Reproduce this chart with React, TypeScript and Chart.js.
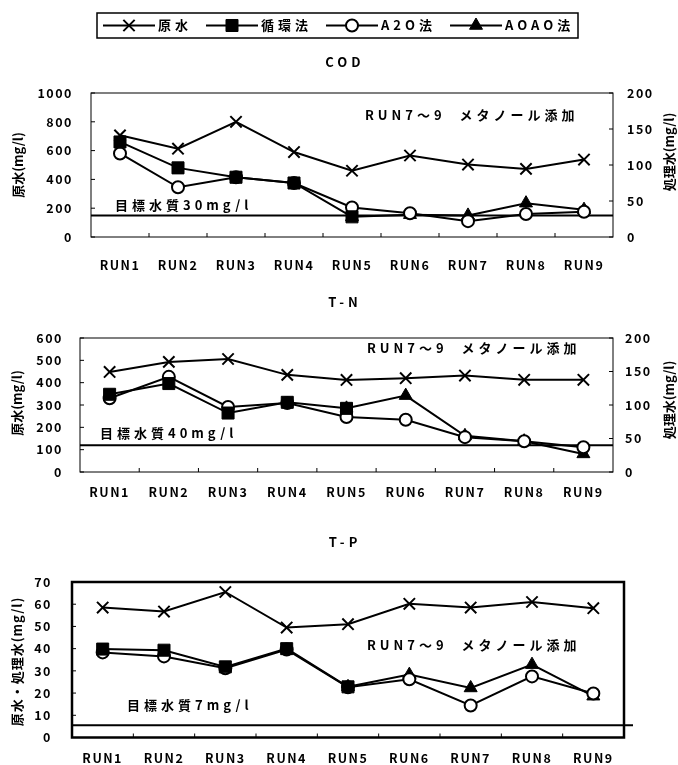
import React, { useEffect, useRef } from 'react';
import { Chart, registerables } from 'chart.js';
import { drawPoint } from 'chart.js/helpers';

Chart.register(...registerables);

const FONT = '"Noto Sans CJK JP", "Noto Sans CJK SC", sans-serif';
const W = 678;

// ---------- data ----------
const categories = ['RUN1', 'RUN2', 'RUN3', 'RUN4', 'RUN5', 'RUN6', 'RUN7', 'RUN8', 'RUN9'];
const seriesNames = ['原水', '循環法', 'A2O法', 'AOAO法'];

// COD (raw on left axis, treated on right axis)
const codRaw = [706, 613, 800, 590, 460, 566, 503, 473, 538];
const codJunkan = [132, 96, 83, 75, 28, null, null, null, null];
const codA2O = [116, 69, 83, 75, 41, 33, 22, 32, 35];
const codAOAO = [null, null, null, null, 28, 31, 30, 47, 38];
const codTarget = 30;
const codLeftMax = 1000;
const codLeftStep = 200;
const codRightMax = 200;
const codRightStep = 50;

// T-N
const tnRaw = [448, 493, 506, 435, 412, 420, 432, 413, 413];
const tnJunkan = [116, 132, 88, 104, 95, null, null, null, null];
const tnA2O = [110, 142, 97, 103, 82, 78, 52, 46, 37];
const tnAOAO = [null, null, null, null, 95, 114, 54, 46, 27];
const tnTarget = 40;
const tnLeftMax = 600;
const tnLeftStep = 100;
const tnRightMax = 200;
const tnRightStep = 50;

// T-P (single axis)
const tpRaw = [58.5, 56.7, 65.5, 49.5, 51, 60.2, 58.5, 61, 58.2];
const tpJunkan = [39.8, 39.3, 31.8, 40, 22.8, null, null, null, null];
const tpA2O = [38.3, 36.5, 31.2, 39.6, 22.6, 26.2, 14.4, 27.5, 19.8];
const tpAOAO = [null, null, null, null, 22.8, 28.3, 22.3, 32.8, 18.6];
const tpTarget = 5.5;
const tpMax = 70;
const tpStep = 10;

const noteText = 'RUN7～9  メタノール添加';

// ---------- styles ----------
const markerStyles = [
  { pointStyle: 'crossRot', radius: 8, fill: '#000', borderWidth: 2 },
  { pointStyle: 'rect', radius: 8.5, fill: '#000', borderWidth: 1 },
  { pointStyle: 'circle', radius: 6, fill: '#fff', borderWidth: 2 },
  { pointStyle: 'triangle', radius: 7.5, fill: '#000', borderWidth: 1 },
];

function drawText(ctx: any, text: string, x: number, y: number, o: any = {}) {
  const size = o.size ?? 13;
  const spacing = o.spacing ?? 0;
  ctx.save();
  ctx.font = `bold ${size}px ${FONT}`;
  ctx.letterSpacing = `${spacing}px`;
  ctx.fillStyle = '#000';
  ctx.textBaseline = 'middle';
  ctx.textAlign = o.align ?? 'left';
  ctx.translate(x, y);
  if (o.rotate) ctx.rotate(o.rotate);
  ctx.fillText(text, o.align === 'center' ? spacing / 2 : 0, 0);
  ctx.restore();
  if (o.measure) {
    ctx.save();
    ctx.font = `bold ${size}px ${FONT}`;
    ctx.letterSpacing = `${spacing}px`;
    const w = ctx.measureText(text).width;
    ctx.restore();
    return w;
  }
  return 0;
}

function drawLegend(ctx: any, box: any) {
  ctx.save();
  ctx.strokeStyle = '#000';
  ctx.lineWidth = 1.5;
  ctx.strokeRect(box.x, box.y, box.w, box.h);
  const cy = box.y + box.h / 2;
  let x = box.x + 6;
  seriesNames.forEach((name, i) => {
    const m = markerStyles[i];
    ctx.lineWidth = 2;
    ctx.beginPath();
    ctx.moveTo(x, cy);
    ctx.lineTo(x + 52, cy);
    ctx.stroke();
    ctx.fillStyle = m.fill;
    ctx.strokeStyle = '#000';
    ctx.lineWidth = m.borderWidth;
    drawPoint(ctx, { pointStyle: m.pointStyle as any, radius: m.radius, borderWidth: m.borderWidth, rotation: 0 }, x + 26, cy);
    const w = drawText(ctx, name, x + 55, cy, { size: 13, spacing: 4, measure: true });
    x = x + 55 + w + 14;
  });
  ctx.restore();
}

function decorPlugin(spec: any) {
  return {
    id: 'decor',
    beforeDraw(chart: any) {
      chart.ctx.letterSpacing = '1.5px';
    },
    beforeDatasetsDraw(chart: any) {
      const ctx = chart.ctx;
      const a = chart.chartArea;
      ctx.save();
      ctx.letterSpacing = '0px';
      ctx.strokeStyle = '#000';
      // target line
      const ty = chart.scales[spec.targetAxis].getPixelForValue(spec.target);
      ctx.lineWidth = 2;
      ctx.beginPath();
      ctx.moveTo(a.left, ty);
      ctx.lineTo(a.right + (spec.targetExtend || 0), ty);
      ctx.stroke();
      // frame
      ctx.lineWidth = spec.frameWidth;
      ctx.strokeRect(a.left, a.top, a.right - a.left, a.bottom - a.top);
      // inner ticks
      ctx.lineWidth = 1;
      ['y', 'y1'].forEach((id) => {
        const s = chart.scales[id];
        if (!s) return;
        s.ticks.forEach((t: any) => {
          const y = s.getPixelForValue(t.value);
          ctx.beginPath();
          if (id === 'y') {
            ctx.moveTo(a.left, y);
            ctx.lineTo(a.left + 4, y);
          } else {
            ctx.moveTo(a.right - 4, y);
            ctx.lineTo(a.right, y);
          }
          ctx.stroke();
        });
      });
      const n = categories.length;
      for (let i = 1; i < n; i++) {
        const x = a.left + (i * (a.right - a.left)) / n;
        ctx.beginPath();
        ctx.moveTo(x, a.bottom);
        ctx.lineTo(x, a.bottom - 4);
        ctx.stroke();
      }
      ctx.restore();
    },
    afterDraw(chart: any) {
      const ctx = chart.ctx;
      drawText(ctx, spec.title, 343, spec.titleY, { size: 13, spacing: 4, align: 'center' });
      spec.axisTitles.forEach((t: any) =>
        drawText(ctx, t.text, t.x, t.y, { size: 13, spacing: t.spacing ?? 0, align: 'center', rotate: -Math.PI / 2 })
      );
      spec.notes.forEach((t: any) => drawText(ctx, t.text, t.x, t.y, { size: 13, spacing: 4 }));
      if (spec.legendBox) drawLegend(ctx, spec.legendBox);
    },
  };
}

function buildConfig(spec: any) {
  const tickFont = { family: FONT, size: 12.5, weight: 'bold' as const };
  const plain = (v: any) => String(v);
  const values = [spec.raw, spec.junkan, spec.a2o, spec.aoao];
  const datasets = values.map((data: any, i: number) => {
    const m = markerStyles[i];
    return {
      label: seriesNames[i],
      data,
      yAxisID: i === 0 ? 'y' : spec.treatedAxis,
      borderColor: '#000',
      backgroundColor: m.fill,
      borderWidth: 2,
      pointStyle: m.pointStyle,
      pointRadius: m.radius,
      pointBackgroundColor: m.fill,
      pointBorderColor: '#000',
      pointBorderWidth: m.borderWidth,
      spanGaps: false,
      tension: 0,
    };
  });
  const a = spec.area;
  const scales: any = {
    x: {
      type: 'category',
      offset: true,
      grid: { display: false, drawTicks: false },
      border: { display: false },
      ticks: { font: tickFont, color: '#000', padding: spec.xPad, autoSkip: false, maxRotation: 0 },
      afterFit: (s: any) => {
        s.height = spec.canvasH - a.bottom;
      },
    },
    y: {
      position: 'left',
      min: 0,
      max: spec.leftMax,
      grid: { display: false, drawTicks: false },
      border: { display: false },
      ticks: { stepSize: spec.leftStep, font: tickFont, color: '#000', padding: spec.yPad, callback: plain },
      afterFit: (s: any) => {
        s.width = a.left;
      },
    },
  };
  if (spec.rightMax) {
    scales.y1 = {
      position: 'right',
      min: 0,
      max: spec.rightMax,
      grid: { display: false, drawTicks: false },
      border: { display: false },
      ticks: { stepSize: spec.rightStep, font: tickFont, color: '#000', padding: spec.y1Pad, callback: plain },
      afterFit: (s: any) => {
        s.width = W - a.right;
      },
    };
  }
  return {
    type: 'line' as const,
    data: { labels: categories, datasets },
    options: {
      responsive: false,
      animation: false as const,
      events: [],
      layout: {
        padding: { top: a.top, left: 0, bottom: 0, right: spec.rightMax ? 0 : W - a.right },
      },
      plugins: {
        legend: { display: false },
        title: { display: false },
        tooltip: { enabled: false },
      },
      scales,
    },
    plugins: [decorPlugin(spec)],
  };
}

const codSpec = {
  raw: codRaw, junkan: codJunkan, a2o: codA2O, aoao: codAOAO,
  treatedAxis: 'y1', leftMax: codLeftMax, leftStep: codLeftStep, rightMax: codRightMax, rightStep: codRightStep,
  target: codTarget, targetAxis: 'y1', targetExtend: 0,
  area: { left: 91, right: 613, top: 93, bottom: 237 }, canvasH: 280,
  xPad: 21, yPad: 18, y1Pad: 14, frameWidth: 1,
  title: 'COD', titleY: 62,
  axisTitles: [
    { text: '原水(mg/l)', x: 18, y: 165 },
    { text: '処理水(mg/l)', x: 669, y: 152 },
  ],
  notes: [
    { text: noteText, x: 365, y: 115 },
    { text: '目標水質30mg/l', x: 115, y: 205 },
  ],
  legendBox: { x: 97, y: 13, w: 481, h: 25 },
};

const tnSpec = {
  raw: tnRaw, junkan: tnJunkan, a2o: tnA2O, aoao: tnAOAO,
  treatedAxis: 'y1', leftMax: tnLeftMax, leftStep: tnLeftStep, rightMax: tnRightMax, rightStep: tnRightStep,
  target: tnTarget, targetAxis: 'y1', targetExtend: 0,
  area: { left: 80, right: 613, top: 58, bottom: 192 }, canvasH: 225,
  xPad: 13, yPad: 17, y1Pad: 12, frameWidth: 1,
  title: 'T-N', titleY: 22,
  axisTitles: [
    { text: '原水(mg/l)', x: 17, y: 123 },
    { text: '処理水(mg/l)', x: 669, y: 120 },
  ],
  notes: [
    { text: noteText, x: 367, y: 68 },
    { text: '目標水質40mg/l', x: 100, y: 153 },
  ],
};

const tpSpec = {
  raw: tpRaw, junkan: tpJunkan, a2o: tpA2O, aoao: tpAOAO,
  treatedAxis: 'y', leftMax: tpMax, leftStep: tpStep,
  target: tpTarget, targetAxis: 'y', targetExtend: 9,
  area: { left: 72, right: 624, top: 77, bottom: 233 }, canvasH: 260,
  xPad: 13, yPad: 20, frameWidth: 2.5,
  title: 'T-P', titleY: 37,
  axisTitles: [{ text: '原水・処理水(mg/l)', x: 17, y: 157, spacing: 1 }],
  notes: [
    { text: noteText, x: 367, y: 140 },
    { text: '目標水質7mg/l', x: 127, y: 200 },
  ],
};

function ChartCanvas({ spec, top, height }: { spec: any; top: number; height: number }) {
  const ref = useRef<HTMLCanvasElement>(null);
  useEffect(() => {
    const chart = new Chart(ref.current as HTMLCanvasElement, buildConfig(spec) as any);
    return () => chart.destroy();
  }, [spec]);
  return (
    <canvas
      ref={ref}
      width={W}
      height={height}
      style={{ position: 'absolute', left: 0, top, width: W, height, display: 'block' }}
    />
  );
}

export default function App() {
  return (
    <div style={{ position: 'absolute', left: 0, top: 0, width: W, height: 765, background: '#fff' }}>
      <ChartCanvas spec={codSpec} top={0} height={280} />
      <ChartCanvas spec={tnSpec} top={280} height={225} />
      <ChartCanvas spec={tpSpec} top={505} height={260} />
    </div>
  );
}
